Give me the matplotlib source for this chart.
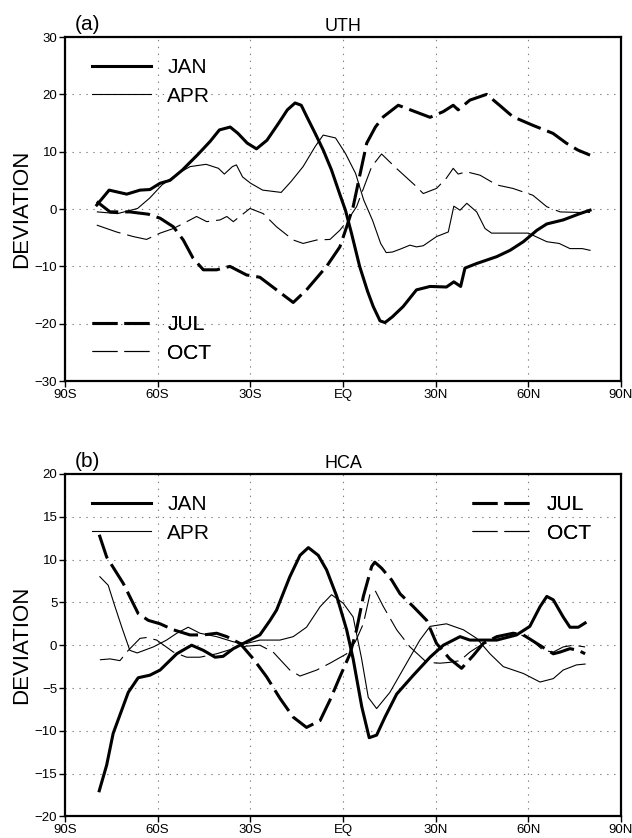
import numpy as np
import matplotlib
matplotlib.use("Agg")
import matplotlib.pyplot as plt
from matplotlib.lines import Line2D

plt.rcParams['font.family'] = ['Liberation Sans', 'DejaVu Sans']
plt.rcParams['lines.scale_dashes'] = False

# ---- (a) UTH deviation ----
uth_jan_lat = [-79.7, -75.7, -70, -65.7, -62.5, -59.2, -56, -52, -47, -43, -40, -36.5, -34, -31, -28, -24.6,
               -20.8, -18, -15.5, -13.5, -11.6, -9, -6.4, -3.7, -1.1, 0.8, 2.8, 5.4, 8, 9.8, 12, 13.6, 16,
               19.5, 23.8, 28.2, 33.5, 35.9, 38.1, 39.5, 43.3, 49.8, 54.1, 58.4, 62.8, 66, 71.3, 76.7, 80]
uth_jan = [0.7, 3.3, 2.6, 3.3, 3.4, 4.5, 5.0, 6.8, 9.5, 11.8, 13.8, 14.3, 13.2, 11.5, 10.5, 12.0,
           15.0, 17.3, 18.5, 18.1, 16.0, 13.2, 10.3, 6.8, 2.7, -0.2, -4.3, -10.0, -14.4, -17.0, -19.5, -19.8, -18.8,
           -17.0, -14.1, -13.5, -13.6, -12.7, -13.5, -10.3, -9.5, -8.3, -7.2, -5.7, -3.7, -2.6, -1.9, -0.8, -0.2]

uth_apr_lat = [-79.5, -73, -66.5, -62.6, -58.6, -53.4, -49.5, -44.3, -40.3, -38.4, -35.8, -34.5, -32.5, -29.9,
               -26, -20, -16.8, -12.9, -9, -6.4, -2.4, 0.8, 4.1, 6.7, 9.6, 12.2, 14.0, 16, 18.5, 21.7, 23.8, 26,
               30.3, 34.1, 35.9, 37.9, 40.1, 43.3, 46, 48.1, 53.7, 60, 66, 70, 73.5, 77.5, 80]
uth_apr = [-0.5, -0.8, 0.1, 1.9, 4.2, 6.2, 7.4, 7.8, 7.1, 6.1, 7.4, 7.7, 5.6, 4.5,
           3.3, 2.9, 4.8, 7.4, 10.9, 12.9, 12.4, 9.7, 6.2, 1.6, -2.0, -6.0, -7.6, -7.5, -7.0, -6.3, -6.6, -6.4,
           -4.8, -4.0, 0.5, -0.2, 1.0, -0.5, -3.4, -4.2, -4.2, -4.2, -5.7, -6.0, -6.9, -6.9, -7.2]

uth_jul_lat = [-79.7, -75.4, -69, -63, -59.2, -54.9, -51.7, -48.5, -45.2, -40.9, -36.6, -31.2, -26.9, -21.5,
               -16.1, -11.8, -5.3, -1, 1.2, 3.3, 5.5, 7.7, 10.5, 13.1, 17.9, 22.8, 28.2, 32.5, 35.7, 37.3, 41.1,
               46.5, 50.7, 55, 61.5, 68, 72.3, 76, 80]
uth_jul = [1.3, -0.5, -0.5, -0.9, -1.6, -3.1, -5.4, -8.6, -10.6, -10.6, -10.0, -11.5, -11.9, -14.1,
           -16.3, -14.1, -10.0, -6.6, -3.1, 0.4, 6.0, 11.5, 14.3, 16.1, 18.1, 17.1, 16.0, 17.0, 18.1, 17.3, 19.0,
           20.0, 18.1, 16.1, 14.6, 13.2, 11.5, 10.3, 9.4]

uth_oct_lat = [-79.7, -73.3, -67.9, -63.6, -59.2, -54.9, -49.5, -47.4, -44.1, -39.8, -37.6, -35.5, -30.1, -25.8,
               -21.5, -16.1, -12.9, -8.5, -4.2, -1, 1.2, 4.4, 9.3, 12.5, 17.3, 23.2, 26, 30.3, 33.5, 35.7, 37.3,
               40, 44.4, 49.8, 55, 61.5, 66, 70.3, 76.7, 80]
uth_oct = [-2.8, -4.0, -4.8, -5.3, -4.2, -3.4, -1.9, -1.3, -2.2, -1.9, -1.3, -2.2, 0.1, -0.8,
           -3.1, -5.4, -6.0, -5.4, -5.3, -3.7, -2.2, 0.4, 7.4, 9.6, 7.1, 4.2, 2.7, 3.6, 5.4, 7.1, 6.1,
           6.5, 5.9, 4.2, 3.6, 2.4, 0.4, -0.5, -0.6, -0.6]

# ---- (b) HCA deviation ----
hca_jan_lat = [-78.9, -76.5, -74.4, -69.5, -66.3, -62.5, -59.2, -53.8, -49, -45.2, -41.4, -38.8, -35.5, -31.2,
               -26.9, -23.6, -21.5, -17.2, -13.9, -11.2, -8, -5.3, -2, 1.2, 3.3, 6.1, 8.5, 10.9, 13.6, 17.4,
               22.8, 28.2, 32.5, 37.9, 41.1, 49.8, 56.2, 60.5, 63.8, 66, 68.1, 71.3, 73.5, 76.2, 78.4]
hca_jan = [-17.0, -14.0, -10.3, -5.5, -3.8, -3.5, -2.9, -1.0, 0.0, -0.6, -1.4, -1.3, -0.4, 0.4,
           1.2, 2.9, 4.1, 8.0, 10.5, 11.4, 10.5, 8.8, 5.7, 1.8, -1.6, -7.2, -10.8, -10.5, -8.4, -5.7,
           -3.5, -1.4, 0.0, 1.0, 0.6, 0.6, 1.2, 2.2, 4.5, 5.7, 5.3, 3.3, 2.1, 2.1, 2.6]

hca_apr_lat = [-78.7, -76, -73.8, -71.6, -69, -66.6, -61.4, -57.1, -53.8, -50.1, -46.3, -40.9, -35.5, -31.2,
               -26.9, -20.4, -16.1, -11.8, -7.4, -3.7, 0.1, 3.3, 6, 8.2, 10.9, 15.2, 20.6, 24.9, 28.2, 33.5,
               39, 43.3, 47.6, 51.9, 58.4, 63.8, 68.1, 71.3, 75.6, 78.4]
hca_apr = [8.0, 7.0, 4.5, 2.1, -0.6, -0.9, -0.2, 0.6, 1.4, 2.1, 1.4, 1.0, 0.4, 0.2,
           0.6, 0.6, 1.0, 2.1, 4.5, 5.9, 4.9, 3.3, -1.5, -6.1, -7.4, -5.5, -2.1, 0.6, 2.2, 2.5,
           1.8, 0.8, -1.0, -2.5, -3.3, -4.3, -3.9, -2.9, -2.3, -2.2]

hca_jul_lat = [-78.9, -76.5, -71.1, -66.3, -63, -59.2, -54.9, -49.5, -45.2, -40.9, -37.6, -33.3, -29, -24.7,
               -20.4, -16.1, -11.8, -7.4, -4.2, -1, 2.3, 4.4, 6.6, 9.3, 10.3, 12.5, 15.8, 18.5, 22.8, 27.1,
               30.3, 34.6, 38.4, 42.2, 45.4, 49.8, 55.1, 58.4, 62.8, 68.1, 70.3, 73.5, 76.2, 78.4]
hca_jul = [12.9, 10.3, 7.2, 3.7, 2.9, 2.5, 1.8, 1.2, 1.2, 1.4, 1.0, 0.2, -1.6, -3.7,
           -6.2, -8.4, -9.6, -8.8, -6.4, -3.7, -1.0, 1.8, 5.7, 9.2, 9.7, 9.0, 7.6, 6.0, 4.5, 2.9,
           0.2, -1.6, -2.7, -1.2, 0.2, 1.0, 1.4, 1.2, 0.2, -1.0, -0.8, -0.4, -0.6, -1.0]

hca_oct_lat = [-78.7, -75.4, -72.2, -69.5, -65.7, -63.6, -60.3, -54.9, -50.6, -46.3, -40.9, -35.5, -31.2, -26.9,
               -22.6, -17.2, -13.9, -8.5, -4.2, 1.2, 4, 6.6, 8.7, 10.4, 13.1, 17.4, 21.7, 27.1, 31.4, 34.6,
               37.9, 41.1, 45.4, 51.9, 56.2, 60.5, 64.8, 68.1, 71.3, 74.6, 78.4]
hca_oct = [-1.7, -1.6, -1.8, -0.6, 0.8, 0.9, 0.6, -0.8, -1.4, -1.4, -1.0, -0.4, -0.1, 0.0,
           -0.8, -2.9, -3.6, -2.9, -2.1, -1.0, 0.4, 2.5, 5.9, 6.4, 4.5, 1.8, -0.2, -2.0, -2.1, -2.0,
           -1.8, -0.8, 0.2, 1.2, 1.4, 0.8, -0.6, -0.8, -0.2, 0.0, -0.2]

lat_ticks = [-90, -60, -30, 0, 30, 60, 90]
lat_labels = ['90S', '60S', '30S', 'EQ', '30N', '60N', '90N']

styles = {
    'JAN': dict(linewidth=2.2, linestyle='-'),
    'APR': dict(linewidth=0.8, linestyle='-'),
    'JUL': dict(linewidth=2.2, linestyle=(0, (18, 5))),
    'OCT': dict(linewidth=0.8, linestyle=(0, (18, 5))),
}

fig = plt.figure(figsize=(6.32, 8.38), dpi=100)
ax_a = fig.add_axes([0.1028, 0.5453, 0.8797, 0.4105])
ax_b = fig.add_axes([0.1028, 0.0257, 0.8797, 0.4087])


def style_axes(ax, ylim, ystep, tag, title):
    ax.set_xlim(-90, 90)
    ax.set_ylim(*ylim)
    ax.set_xticks(lat_ticks)
    ax.set_xticklabels(lat_labels)
    ax.set_yticks(np.arange(ylim[0], ylim[1] + 1, ystep))
    ax.grid(True, color='#808080', linestyle=(0, (1, 4)), linewidth=0.8)
    for s in ax.spines.values():
        s.set_linewidth(1.6)
    ax.tick_params(direction='out', length=4, width=1, labelsize=9.5, pad=1.5)
    ax.set_ylabel('DEVIATION', fontsize=16, labelpad=2)
    ax.text(0.018, 1.008, tag, transform=ax.transAxes, fontsize=15, va='bottom')
    ax.set_title(title, fontsize=13, pad=4)


def add_legend(ax, names, x, y):
    handles = [Line2D([], [], color='black', **styles[n]) for n in names]
    leg = ax.legend(handles, names, loc='upper left', bbox_to_anchor=(x, y), frameon=False,
                    fontsize=15, handlelength=2.8, handletextpad=0.8, labelspacing=0.45,
                    borderpad=0, borderaxespad=0)
    ax.add_artist(leg)


for ax, series in [
    (ax_a, [('JAN', uth_jan_lat, uth_jan), ('APR', uth_apr_lat, uth_apr),
            ('JUL', uth_jul_lat, uth_jul), ('OCT', uth_oct_lat, uth_oct)]),
    (ax_b, [('JAN', hca_jan_lat, hca_jan), ('APR', hca_apr_lat, hca_apr),
            ('JUL', hca_jul_lat, hca_jul), ('OCT', hca_oct_lat, hca_oct)]),
]:
    for name, lat, val in series:
        ax.plot(lat, val, color='black', **styles[name])

style_axes(ax_a, (-30, 30), 10, '(a)', 'UTH')
style_axes(ax_b, (-20, 20), 5, '(b)', 'HCA')

add_legend(ax_a, ['JAN', 'APR'], 0.049, 0.938)
add_legend(ax_a, ['JUL', 'OCT'], 0.049, 0.191)
add_legend(ax_b, ['JAN', 'APR'], 0.049, 0.938)
add_legend(ax_b, ['JUL', 'OCT'], 0.732, 0.938)

fig.savefig('out.png', dpi=100)
